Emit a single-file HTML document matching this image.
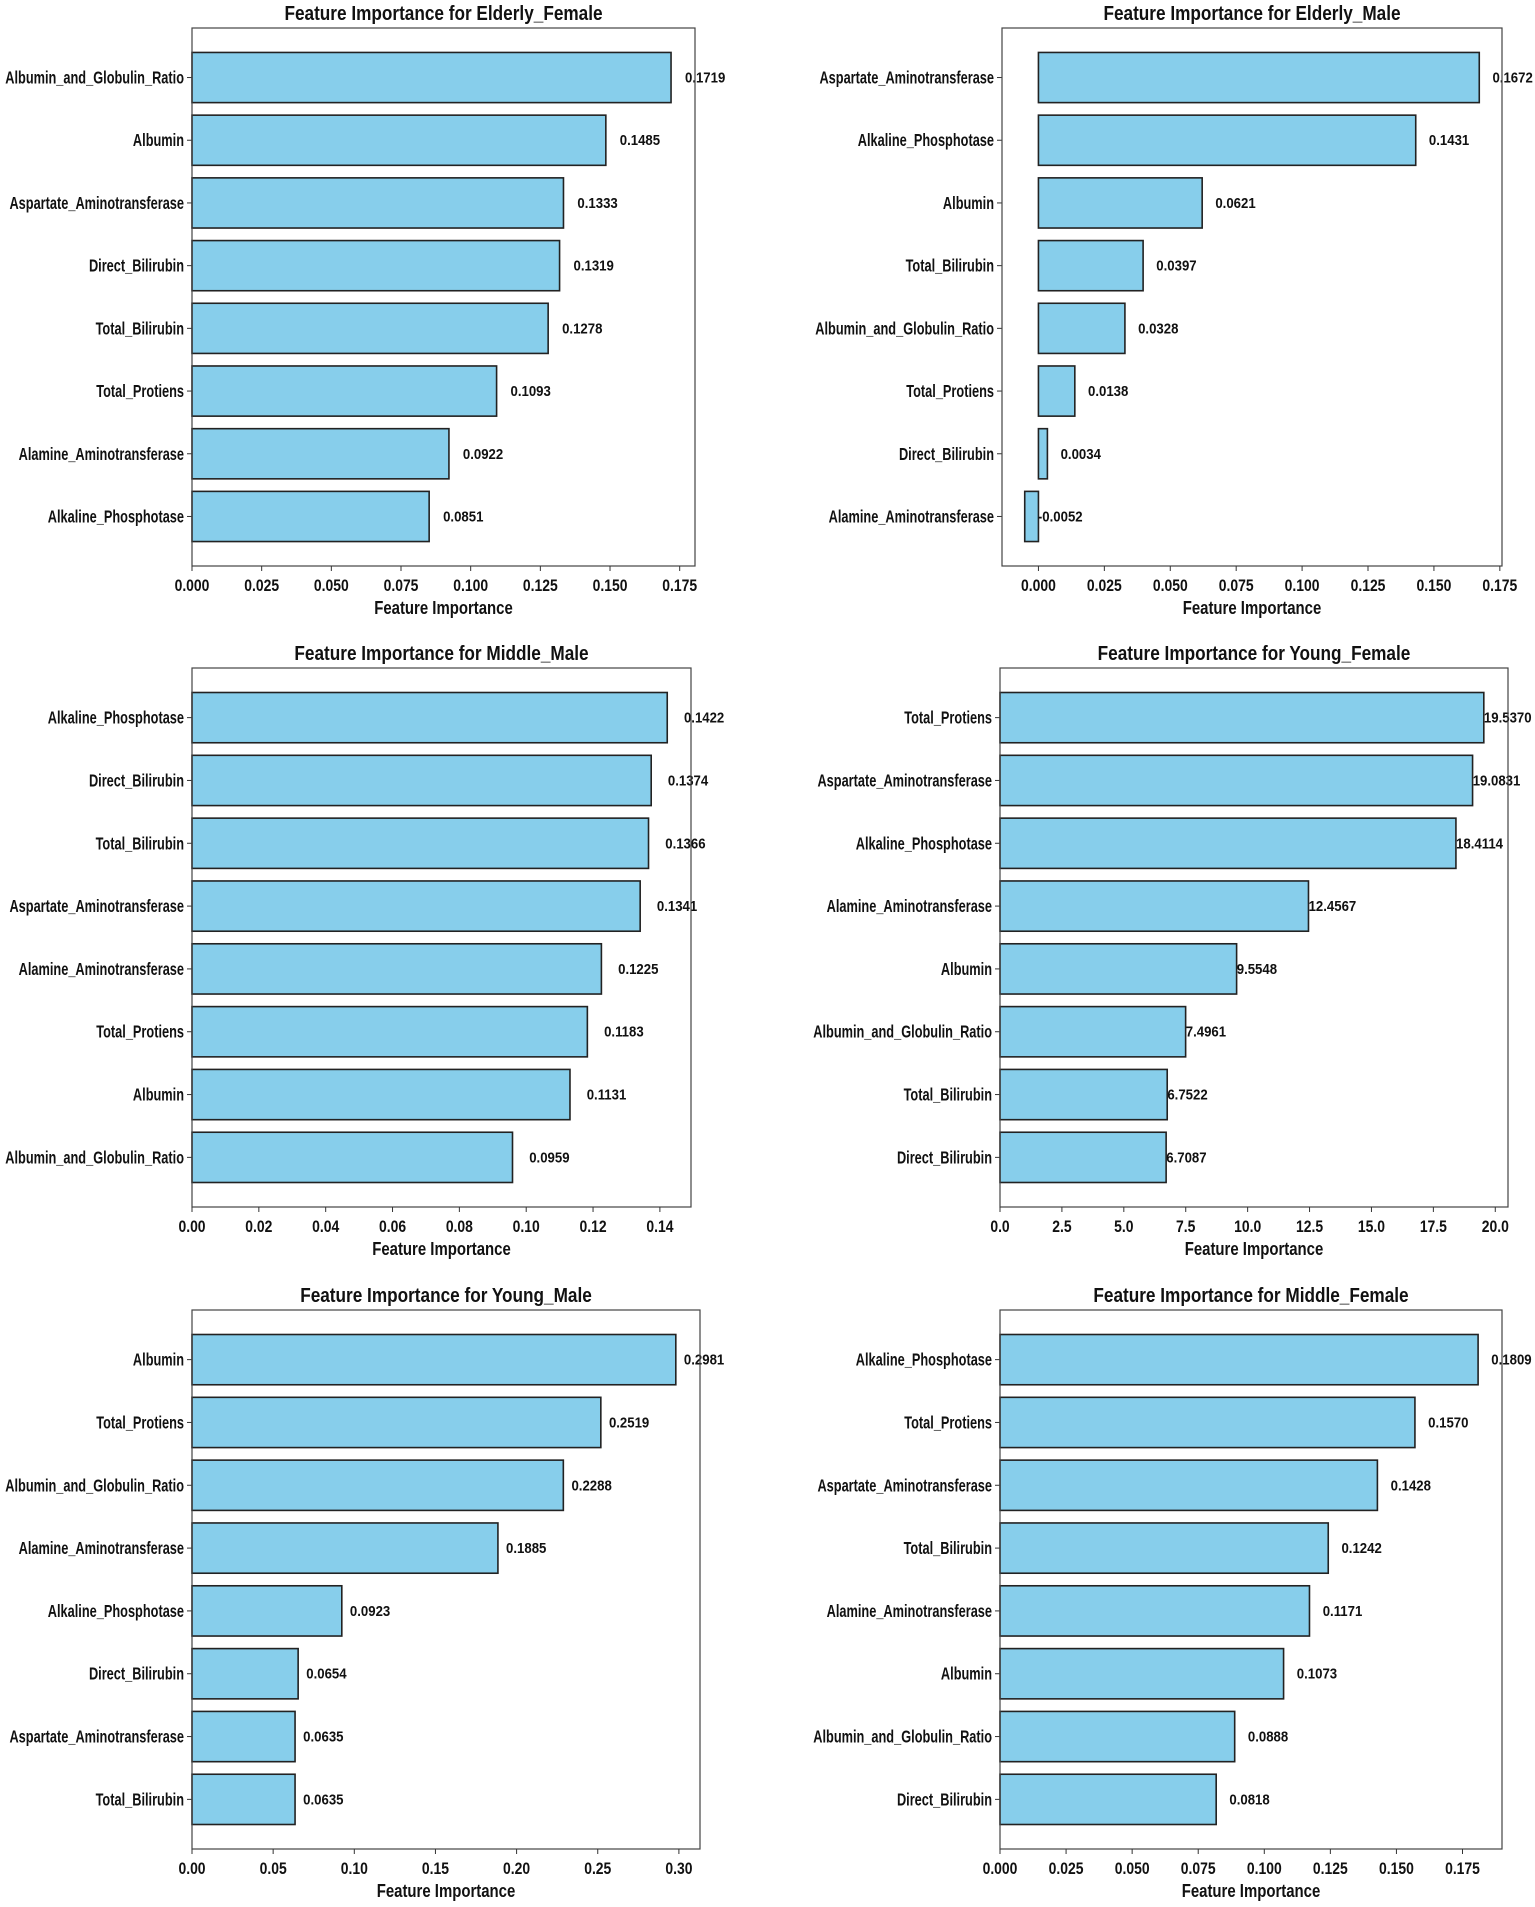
<!DOCTYPE html>
<html><head><meta charset="utf-8">
<style>
html,body{margin:0;padding:0;background:#fff;}
svg{display:block;}
text{font-family:"Liberation Sans",sans-serif;font-weight:bold;fill:#111;}
</style></head>
<body>
<svg id="fig" width="1535" height="1907" viewBox="0 0 1535 1907" xmlns="http://www.w3.org/2000/svg"></svg>
<script>
// Panel 1: Elderly_Female
const cats1 = ["Albumin_and_Globulin_Ratio","Albumin","Aspartate_Aminotransferase","Direct_Bilirubin","Total_Bilirubin","Total_Protiens","Alamine_Aminotransferase","Alkaline_Phosphotase"];
const vals1 = [0.1719,0.1485,0.1333,0.1319,0.1278,0.1093,0.0922,0.0851];
const ticks1 = [0,0.025,0.05,0.075,0.1,0.125,0.15,0.175];
// Panel 2: Elderly_Male
const cats2 = ["Aspartate_Aminotransferase","Alkaline_Phosphotase","Albumin","Total_Bilirubin","Albumin_and_Globulin_Ratio","Total_Protiens","Direct_Bilirubin","Alamine_Aminotransferase"];
const vals2 = [0.1672,0.1431,0.0621,0.0397,0.0328,0.0138,0.0034,-0.0052];
const ticks2 = [0,0.025,0.05,0.075,0.1,0.125,0.15,0.175];
// Panel 3: Middle_Male
const cats3 = ["Alkaline_Phosphotase","Direct_Bilirubin","Total_Bilirubin","Aspartate_Aminotransferase","Alamine_Aminotransferase","Total_Protiens","Albumin","Albumin_and_Globulin_Ratio"];
const vals3 = [0.1422,0.1374,0.1366,0.1341,0.1225,0.1183,0.1131,0.0959];
const ticks3 = [0,0.02,0.04,0.06,0.08,0.1,0.12,0.14];
// Panel 4: Young_Female
const cats4 = ["Total_Protiens","Aspartate_Aminotransferase","Alkaline_Phosphotase","Alamine_Aminotransferase","Albumin","Albumin_and_Globulin_Ratio","Total_Bilirubin","Direct_Bilirubin"];
const vals4 = [19.5370,19.0831,18.4114,12.4567,9.5548,7.4961,6.7522,6.7087];
const ticks4 = [0,2.5,5,7.5,10,12.5,15,17.5,20];
// Panel 5: Young_Male
const cats5 = ["Albumin","Total_Protiens","Albumin_and_Globulin_Ratio","Alamine_Aminotransferase","Alkaline_Phosphotase","Direct_Bilirubin","Aspartate_Aminotransferase","Total_Bilirubin"];
const vals5 = [0.2981,0.2519,0.2288,0.1885,0.0923,0.0654,0.0635,0.0635];
const ticks5 = [0,0.05,0.1,0.15,0.2,0.25,0.3];
// Panel 6: Middle_Female
const cats6 = ["Alkaline_Phosphotase","Total_Protiens","Aspartate_Aminotransferase","Total_Bilirubin","Alamine_Aminotransferase","Albumin","Albumin_and_Globulin_Ratio","Direct_Bilirubin"];
const vals6 = [0.1809,0.1570,0.1428,0.1242,0.1171,0.1073,0.0888,0.0818];
const ticks6 = [0,0.025,0.05,0.075,0.1,0.125,0.15,0.175];

const NS = "http://www.w3.org/2000/svg";
const svg = document.getElementById('fig');
function mk(tag, attrs, parent){
  const e = document.createElementNS(NS, tag);
  for (const k in attrs) e.setAttribute(k, attrs[k]);
  (parent||svg).appendChild(e);
  return e;
}
function txt(parent, x, y, s, size, sx, anchor){
  const t = mk('text', {transform:`translate(${x},${y}) scale(${sx},1)`, 'font-size':size, 'text-anchor':anchor}, parent);
  t.textContent = s;
  return t;
}

function panel(name, title, cats, vals, ticks, decimals, L, R, T, B){
  const g = mk('g', {});
  
  
  const dmin = Math.min(0, ...vals), dmax = Math.max(0, ...vals);
  const span = dmax - dmin;
  const xmin = dmin < 0 ? dmin - 0.05*span : 0;
  const xmax = dmax + 0.05*span;
  const xs = v => L + (v - xmin)/(xmax - xmin)*(R - L);
  const n = cats.length;
  const y0 = -0.4 - 0.05*(n - 0.2), y1 = (n - 1) + 0.4 + 0.05*(n - 0.2);
  const ys = i => T + (i - y0)/(y1 - y0)*(B - T);
  const bh = 0.8/(y1 - y0)*(B - T);
  const off = 0.005;
  const tt = txt(g, (L+R)/2, T-8, title, 20, 0.86, 'middle');
  
  
  cats.forEach((c, i) => {
    const v = vals[i];
    const x0 = xs(Math.min(0, v)), x1 = xs(Math.max(0, v));
    const r = mk('rect', {x:x0, y:ys(i)-bh/2, width:Math.max(1, x1-x0), height:bh, fill:'#87CEEB', stroke:'#222', 'stroke-width':1.6}, g);
    
    
    const vl = txt(g, xs(v + off), ys(i)+5, v.toFixed(4), 15, 0.88, 'start');
    
    
    mk('line', {x1:L-5, x2:L, y1:ys(i), y2:ys(i), stroke:'#333', 'stroke-width':1}, g);
    const yl = txt(g, L-8, ys(i)+6, c, 18, 0.71, 'end');
    
    
  });
  mk('rect', {x:L, y:T, width:R-L, height:B-T, fill:'none', stroke:'#444', 'stroke-width':1.2}, g);
  ticks.forEach(t => {
    const x = xs(t);
    mk('line', {x1:x, x2:x, y1:B, y2:B+5, stroke:'#333', 'stroke-width':1}, g);
    const tl = txt(g, x, B+25, t.toFixed(decimals), 17, 0.82, 'middle');
    
    
  });
  const xl = txt(g, (L+R)/2, B+48, 'Feature Importance', 18, 0.83, 'middle');
  
  
}

panel('panel-elderly-female', 'Feature Importance for Elderly_Female', cats1, vals1, ticks1, 3, 192, 695, 28, 566);
panel('panel-elderly-male', 'Feature Importance for Elderly_Male', cats2, vals2, ticks2, 3, 1002, 1502, 28, 566);
panel('panel-middle-male', 'Feature Importance for Middle_Male', cats3, vals3, ticks3, 2, 192, 691, 668, 1207);
panel('panel-young-female', 'Feature Importance for Young_Female', cats4, vals4, ticks4, 1, 1000, 1508, 668, 1207);
panel('panel-young-male', 'Feature Importance for Young_Male', cats5, vals5, ticks5, 2, 192, 700, 1310, 1849);
panel('panel-middle-female', 'Feature Importance for Middle_Female', cats6, vals6, ticks6, 3, 1000, 1502, 1310, 1849);
</script>
</body></html>
